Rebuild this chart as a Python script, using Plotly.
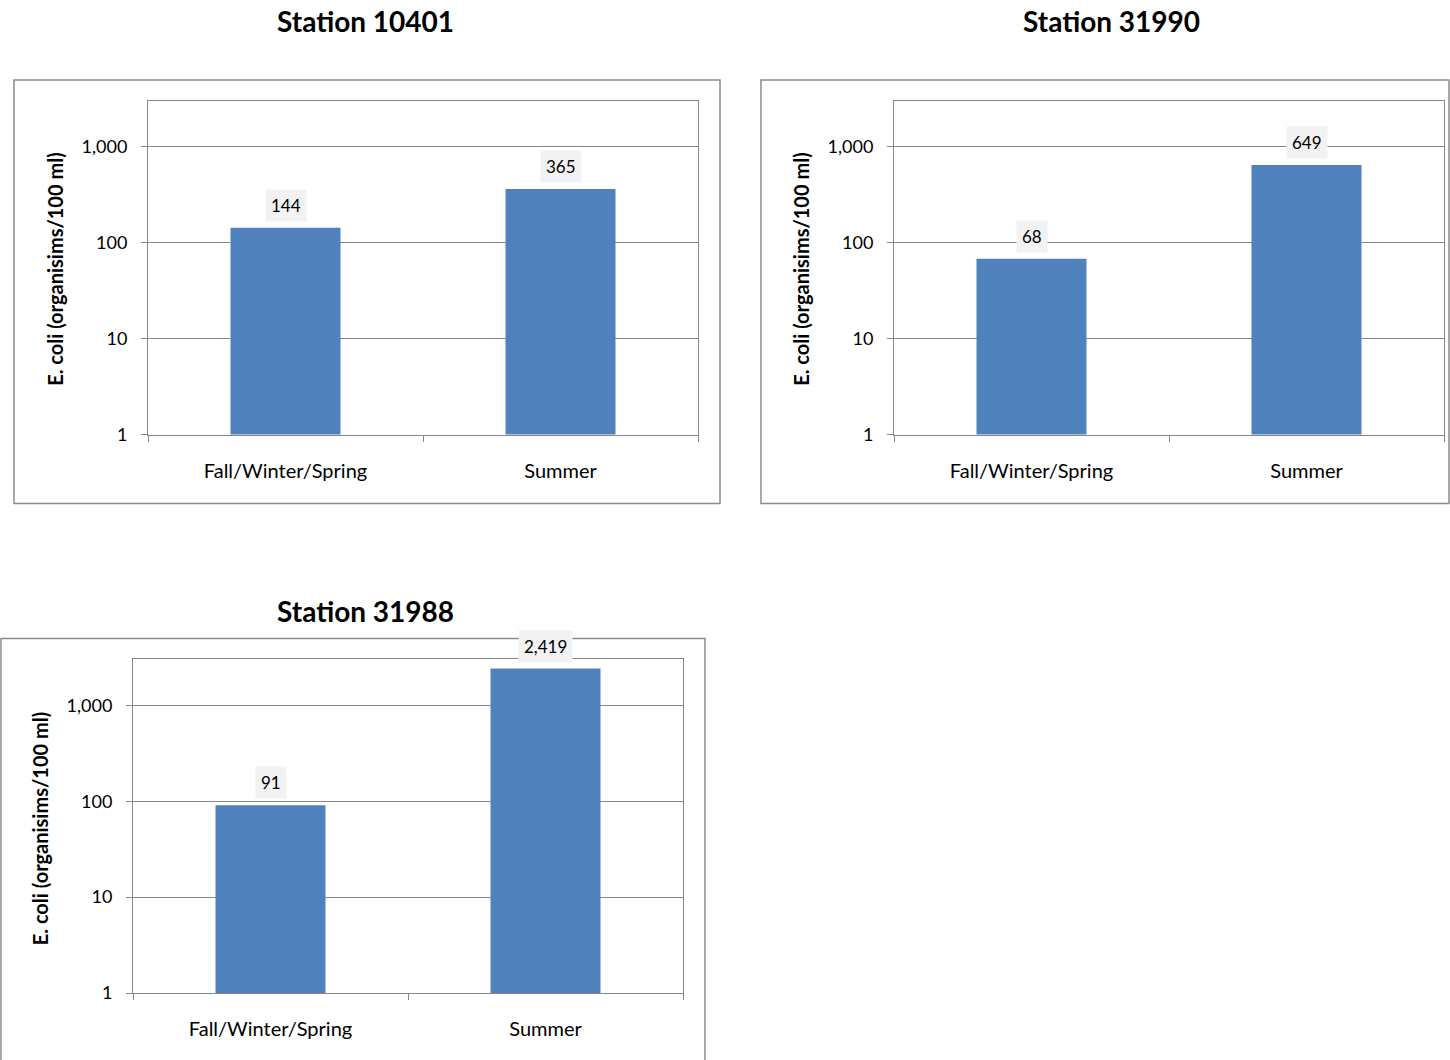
import numpy as np
import plotly.graph_objects as go

W = 1450
REF_H = 1060      # pixel grid of the reference picture
H = 1069          # figure height (page is shown scaled to the reference grid)

categories = ["Fall/Winter/Spring", "Summer"]
stations = ["Station 10401", "Station 31990", "Station 31988"]
values_10401 = [144, 365]
values_31990 = [68, 649]
values_31988 = [91, 2419]
series = [values_10401, values_31990, values_31988]
tick_vals = [1, 10, 100, 1000]
tick_text = ["1", "10", "100", "1,000"]
y_title = "E. coli (organisims/100 ml)"

FONT = "Lato"
BAR = "#4f81bd"
GRID = "#868686"

def px(x):
    return x / W

def py(y):
    return 1 - y / REF_H

# plot areas (pixels): x0, x1, ytop, ybottom
areas = [(148, 698, 101, 435), (894, 1444, 101, 435), (133, 683, 660, 994)]
frames = [(14, 720, 80, 504), (761, 1449, 80, 504), (1, 705, 639, 1090)]
titles_pos = [(365, 21), (1111, 21), (365, 612)]
ytitle_pos = [(55, 270), (801, 270), (40, 830)]

fig = go.Figure()
layout = dict(
    width=W, height=H, margin=dict(l=0, r=0, t=0, b=0), autosize=False,
    paper_bgcolor="white", plot_bgcolor="white", showlegend=False,
    font=dict(family=FONT, color="#000000"),
)
annotations = []
shapes = []

for i, (name, vals) in enumerate(zip(stations, series)):
    sfx = "" if i == 0 else str(i + 1)
    xa, ya = "x" + sfx, "y" + sfx
    fig.add_trace(go.Bar(
        x=categories, y=vals, width=0.4, marker=dict(color=BAR, line=dict(width=0)),
        xaxis=xa, yaxis=ya, hoverinfo="x+y",
    ))
    x0, x1, yt, yb = areas[i]
    layout["xaxis" + sfx] = dict(
        domain=[px(x0), px(x1)], anchor=ya, type="category",
        showline=True, linecolor=GRID, linewidth=1, mirror=True,
        ticks="outside", tickson="boundaries", ticklen=6, tickcolor=GRID,
        showgrid=False, tickfont=dict(size=20, family=FONT, color="#000"),
        ticklabelstandoff=18, fixedrange=True,
    )
    layout["yaxis" + sfx] = dict(
        domain=[py(yb), py(yt)], anchor=xa, type="log", range=[0, 3.48],
        tickvals=tick_vals, ticktext=tick_text,
        showline=True, linecolor=GRID, linewidth=1, mirror=True,
        ticks="outside", ticklen=6, tickcolor=GRID,
        showgrid=True, gridcolor=GRID, gridwidth=1,
        tickfont=dict(size=18, family=FONT, color="#000"),
        ticklabelstandoff=10, fixedrange=True,
    )
    for c, v in zip(categories, vals):
        annotations.append(dict(
            x=c, y=np.log10(v), xref=xa, yref=ya, text=f"{v:,}",
            showarrow=False, yanchor="bottom", yshift=6,
            bgcolor="#f2f2f2", borderpad=5,
            font=dict(size=17, family=FONT, color="#000"),
        ))
    tx, ty = titles_pos[i]
    annotations.append(dict(
        x=px(tx), y=py(ty), xref="paper", yref="paper", text=f"<b>{name}</b>",
        showarrow=False, xanchor="center", yanchor="middle",
        font=dict(size=28, family=FONT, color="#000"),
    ))
    ax_, ay_ = ytitle_pos[i]
    annotations.append(dict(
        x=px(ax_), y=py(ay_), xref="paper", yref="paper", text=f"<b>{y_title}</b>",
        showarrow=False, xanchor="center", yanchor="middle", textangle=-90,
        font=dict(size=20, family=FONT, color="#000"),
    ))
    fx0, fx1, fy0, fy1 = frames[i]
    shapes.append(dict(
        type="rect", xref="paper", yref="paper",
        x0=px(fx0), x1=px(fx1), y0=py(fy1), y1=py(fy0),
        line=dict(color="#8c8c8c", width=1.5), fillcolor="rgba(0,0,0,0)", layer="below",
    ))

layout["annotations"] = annotations
layout["shapes"] = shapes
fig.update_layout(**layout)
fig.write_html(
    "out.html",
    config={"displayModeBar": False, "responsive": False},
    post_script=(
        "document.documentElement.style.margin='0';"
        "document.body.style.margin='0';document.body.style.overflow='hidden';"
        "var gd=document.getElementById('{plot_id}');"
        "gd.style.position='fixed';gd.style.top='0px';gd.style.left='0px';"
    ),
)
